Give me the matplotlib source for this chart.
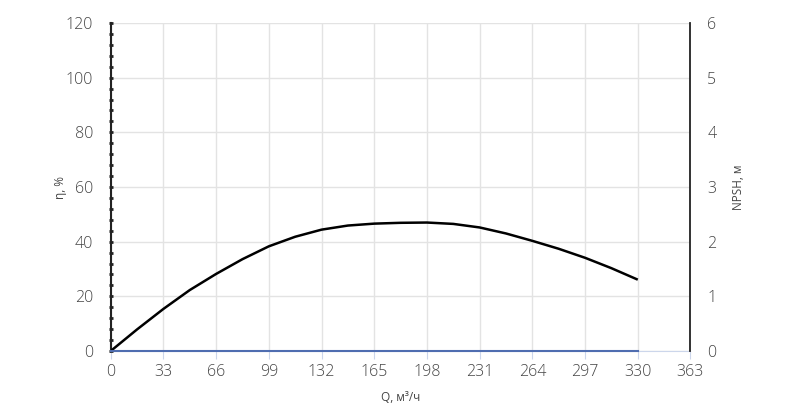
import matplotlib.pyplot as plt
from matplotlib.ticker import MultipleLocator

# flow, m3/h
q = [0, 16.5, 33, 49.5, 66, 82.5, 99, 115.5, 132, 148.5, 165, 181.5, 198,
     214.5, 231, 247.5, 264, 280.5, 297, 313.5, 330]
# efficiency, %
eta = [0, 7.9, 15.4, 22.3, 28.2, 33.6, 38.3, 41.8, 44.4, 45.9, 46.6, 46.9, 47.0,
       46.5, 45.2, 43.0, 40.3, 37.4, 34.1, 30.3, 26.1]
# npsh line along zero
q_npsh = [0, 330]
npsh = [0, 0]

x_ticks = [0, 33, 66, 99, 132, 165, 198, 231, 264, 297, 330, 363]

plt.rcParams['font.family'] = ['Open Sans', 'DejaVu Sans']

fig = plt.figure(figsize=(8, 4.08), dpi=100)
ax = fig.add_axes([0.1384, 0.1397, 0.7247, 0.8039])
ax2 = ax.twinx()

ax.plot(q, eta, color='black', lw=1.8, zorder=4, solid_capstyle='butt', solid_joinstyle='round')
ax2.plot(q_npsh, npsh, color='#4f6db0', lw=1.5, zorder=4, clip_on=False)

ax.set_xlim(0, 363)
ax.set_ylim(0, 120)
ax2.set_ylim(0, 6)
ax.set_xticks(x_ticks)
ax.set_yticks(range(0, 121, 20))
ax.yaxis.set_minor_locator(MultipleLocator(4))
ax2.set_yticks(range(0, 7))

ax.grid(True, color='#e3e3e3', lw=1)
ax.set_axisbelow(True)

for a in (ax, ax2):
    for s in a.spines.values():
        s.set_visible(False)
ax.spines['left'].set_visible(True)
ax.spines['left'].set_color('#222222')
ax.spines['left'].set_linewidth(1.5)
ax.spines['bottom'].set_visible(True)
ax.spines['bottom'].set_color('#ccd6eb')
ax2.spines['right'].set_visible(True)
ax2.spines['right'].set_color('#222222')
ax2.spines['right'].set_linewidth(1.3)

lab = '#444444'
ax.tick_params(axis='x', colors='#ccd6eb', length=6, labelcolor=lab, labelsize=11.5, pad=3)
ax.tick_params(axis='y', which='major', length=3, width=2, direction='inout',
               color='#222222', labelcolor=lab, labelsize=11.5, pad=11)
ax.tick_params(axis='y', which='minor', length=3, width=2, direction='inout', color='#222222')
ax2.tick_params(axis='y', length=0, labelcolor=lab, labelsize=11.5, pad=12)
for t in ax.get_xticklabels() + ax.get_yticklabels() + ax2.get_yticklabels():
    t.set_fontweight('light')

ax.set_xlabel('Q, м³/ч', fontsize=8.5, color=lab, labelpad=8)
ax.set_ylabel('η, %', fontsize=8.5, color=lab, labelpad=-1)
ax2.set_ylabel('NPSH, м', fontsize=8.5, color=lab, labelpad=11)

fig.savefig('out.png', dpi=100)
